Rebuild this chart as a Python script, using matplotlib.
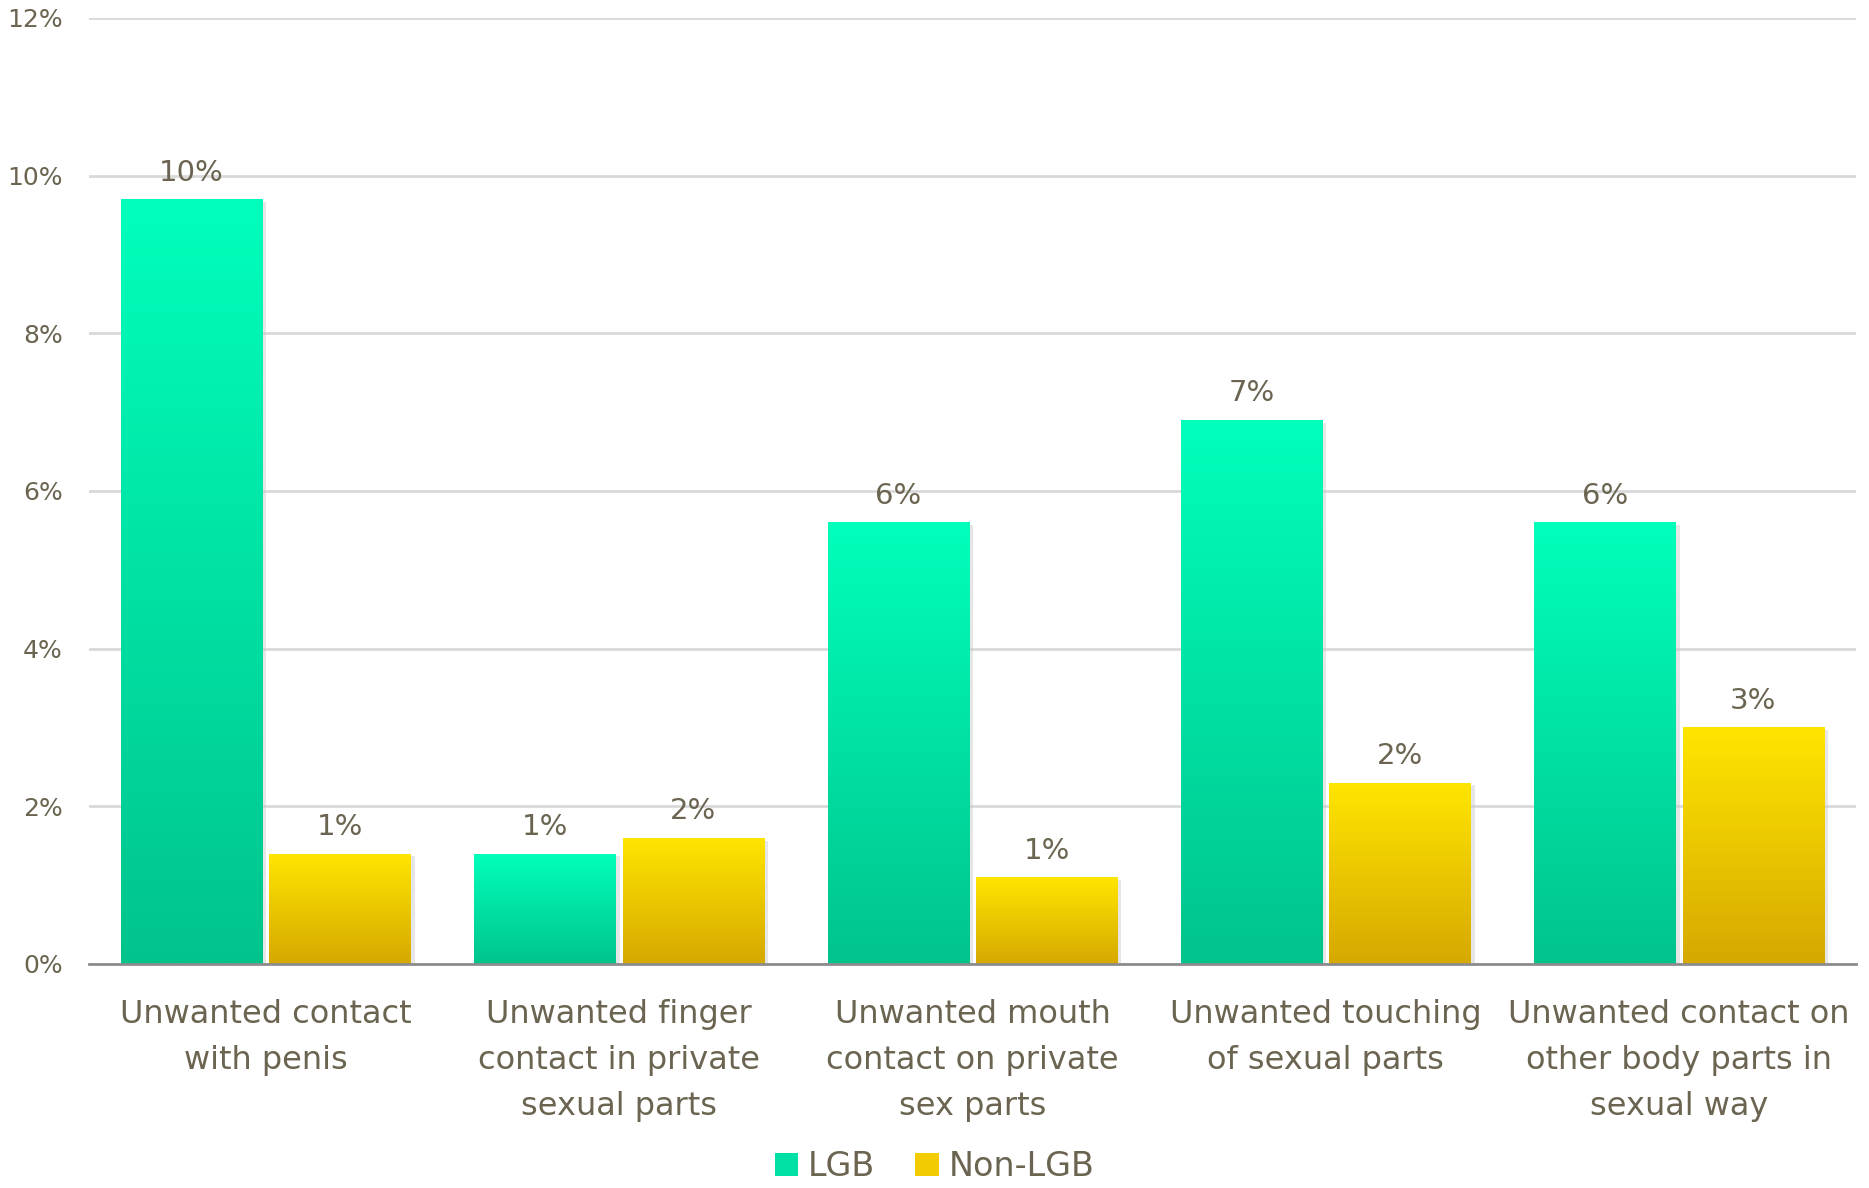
import numpy as np
import matplotlib
matplotlib.use("Agg")
import matplotlib.pyplot as plt
from matplotlib.colors import LinearSegmentedColormap
from matplotlib.patches import Rectangle
import matplotlib.patheffects as pe

categories = ["Unwanted contact\nwith penis",
              "Unwanted finger\ncontact in private\nsexual parts",
              "Unwanted mouth\ncontact on private\nsex parts",
              "Unwanted touching\nof sexual parts",
              "Unwanted contact on\nother body parts in\nsexual way"]
lgb = [9.7, 1.4, 5.6, 6.9, 5.6]
non_lgb = [1.4, 1.6, 1.1, 2.3, 3.0]
lgb_labels = ["10%", "1%", "6%", "7%", "6%"]
non_lgb_labels = ["1%", "2%", "1%", "2%", "3%"]
series_names = ["LGB", "Non-LGB"]
yticks = [0, 2, 4, 6, 8, 10, 12]
ytick_labels = ["0%", "2%", "4%", "6%", "8%", "10%", "12%"]

TXT = "#6B6450"
plt.rcParams['font.family'] = ['DejaVu Sans']

fig = plt.figure(figsize=(18.69, 11.88), dpi=100)
ax = fig.add_axes([0.0476, 0.1886, 0.9454, 0.7963])

cmap_lgb = LinearSegmentedColormap.from_list("lgb", ["#00C48C", "#00FFBB"])
cmap_non = LinearSegmentedColormap.from_list("non", ["#D6A800", "#FFE600"])

x = np.arange(len(categories))
w = 0.40
off = 0.21
grad = np.linspace(0, 1, 256).reshape(-1, 1)

for vals, labels, cmap, sgn in [(lgb, lgb_labels, cmap_lgb, -1), (non_lgb, non_lgb_labels, cmap_non, 1)]:
    bars = ax.bar(x + sgn * off, vals, w, color="white", zorder=2,
                  path_effects=[pe.SimplePatchShadow(offset=(3, -2), shadow_rgbFace="#c8c8c8", alpha=0.45), pe.Normal()])
    for b, v, lab in zip(bars, vals, labels):
        x0 = b.get_x()
        im = ax.imshow(grad, cmap=cmap, origin="lower", aspect="auto",
                       extent=(x0, x0 + b.get_width(), 0, v), zorder=3,
                       vmin=0, vmax=1)
        im.set_clip_path(b)
        ax.text(x0 + b.get_width() / 2, v + 0.16, lab, ha="center", va="bottom",
                fontsize=21, color=TXT, zorder=4)

ax.set_xlim(-0.5, len(categories) - 0.5)
ax.set_ylim(0, 12)
ax.set_yticks(yticks)
ax.set_yticklabels(ytick_labels, fontsize=18, color=TXT)
ax.set_xticks(x)
ax.set_xticklabels(categories, fontsize=23, color=TXT, linespacing=1.63)
ax.tick_params(axis="both", length=0)
ax.tick_params(axis="y", pad=19)
ax.tick_params(axis="x", pad=25)
ax.yaxis.grid(True, color="#D9D9D9", linewidth=2)
ax.set_axisbelow(True)
for s in ["top", "right", "left"]:
    ax.spines[s].set_visible(False)
ax.spines["bottom"].set_color("#8C8C8C")
ax.spines["bottom"].set_linewidth(2)
ax.spines["bottom"].set_zorder(5)

handles = [Rectangle((0, 0), 1, 1, facecolor="#00E0A4"), Rectangle((0, 0), 1, 1, facecolor="#F2CC00")]
fig.legend(handles, series_names, loc="lower center", bbox_to_anchor=(0.5, -0.021), ncol=2,
           frameon=False, fontsize=24, labelcolor=TXT, handlelength=0.7, handleheight=0.7,
           handletextpad=0.3, columnspacing=1.2)

fig.savefig("out.png", dpi=100)
